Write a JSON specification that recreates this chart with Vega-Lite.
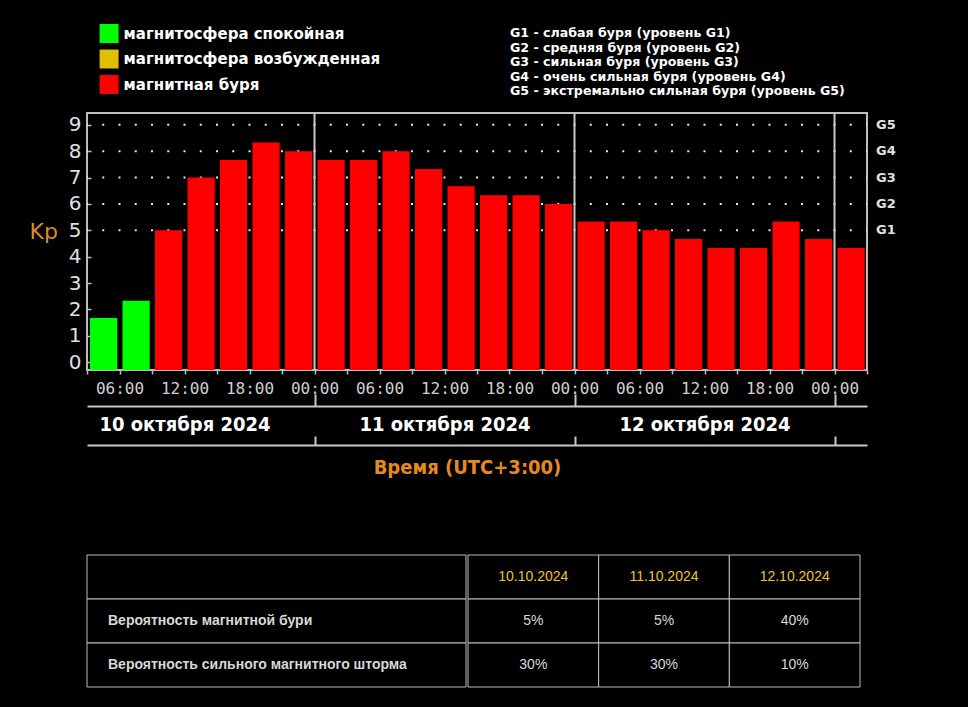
{
  "$schema": "https://vega.github.io/schema/vega-lite/v6.json",
  "background": "#000000",
  "padding": {"left": 28, "top": 23, "right": 71, "bottom": 19},
  "config": {"view": {"stroke": null}, "font": "DejaVu Sans"},
  "datasets": {
    "midnights": [{"t": "2024-10-11T00:00:00"}, {"t": "2024-10-12T00:00:00"}, {"t": "2024-10-13T00:00:00"}]
  },
  "bounds": "flush",
  "spacing": 36,
  "resolve": {"legend": {"color": "independent"}},
  "vconcat": [
    {
      "width": 780,
      "height": 257,
      "view": {"stroke": "#bdbdbd", "strokeWidth": 2},
      "title": {
        "text": ["G1 - слабая буря (уровень G1)", "G2 - средняя буря (уровень G2)", "G3 - сильная буря (уровень G3)", "G4 - очень сильная буря (уровень G4)", "G5 - экстремально сильная буря (уровень G5)"],
        "anchor": "start", "frame": "group", "dx": 423, "offset": -74,
        "font": "DejaVu Sans", "fontSize": 12.6, "fontWeight": "bold", "color": "#ffffff", "lineHeight": 14.5
      },
      "layer": [
        {
          "data": {"values": [{"level": 5}, {"level": 6}, {"level": 7}, {"level": 8}, {"level": 9}]},
          "mark": {"type": "rule", "stroke": "#e8e8e8", "strokeWidth": 2, "strokeDash": [2, 14.25], "strokeDashOffset": 1},
          "encoding": {
            "y": {"field": "level", "type": "quantitative", "scale": {"domain": [-0.3, 9.45], "nice": false, "zero": false},
              "axis": {"orient": "left", "values": [0,1,2,3,4,5,6,7,8,9], "ticks": true, "tickSize": -4, "tickColor": "#bdbdbd", "tickWidth": 1.5, "domain": false, "grid": false,
                "labelFont": "DejaVu Sans", "labelFontSize": 20, "labelColor": "#e0e0e0", "labelPadding": 10,
                "labelOverlap": false, "labelFlush": false, "labelBound": false,
                "title": "Kp", "titleAngle": 0, "titleColor": "#d98b2b", "titleFont": "DejaVu Sans", "titleFontSize": 22, "titleFontWeight": "normal",
                "titleX": -58, "titleY": 118, "titleAlign": "left", "titleBaseline": "middle"}}
          }
        },
        {
          "data": {"name": "midnights"},
          "mark": {"type": "rule", "stroke": "#c8c8c8", "strokeWidth": 2},
          "encoding": {
            "x": {"field": "t", "type": "temporal",
              "scale": {"domain": [{"year": 2024, "month": 10, "date": 10, "hours": 3}, {"year": 2024, "month": 10, "date": 13, "hours": 3}]}}
          }
        },
        {
          "data": {
            "values": [
              {"start": "2024-10-10T03:00:00", "end": "2024-10-10T06:00:00", "kp": 1.67, "status": "магнитосфера спокойная"},
              {"start": "2024-10-10T06:00:00", "end": "2024-10-10T09:00:00", "kp": 2.33, "status": "магнитосфера спокойная"},
              {"start": "2024-10-10T09:00:00", "end": "2024-10-10T12:00:00", "kp": 5, "status": "магнитная буря"},
              {"start": "2024-10-10T12:00:00", "end": "2024-10-10T15:00:00", "kp": 7, "status": "магнитная буря"},
              {"start": "2024-10-10T15:00:00", "end": "2024-10-10T18:00:00", "kp": 7.67, "status": "магнитная буря"},
              {"start": "2024-10-10T18:00:00", "end": "2024-10-10T21:00:00", "kp": 8.33, "status": "магнитная буря"},
              {"start": "2024-10-10T21:00:00", "end": "2024-10-11T00:00:00", "kp": 8, "status": "магнитная буря"},
              {"start": "2024-10-11T00:00:00", "end": "2024-10-11T03:00:00", "kp": 7.67, "status": "магнитная буря"},
              {"start": "2024-10-11T03:00:00", "end": "2024-10-11T06:00:00", "kp": 7.67, "status": "магнитная буря"},
              {"start": "2024-10-11T06:00:00", "end": "2024-10-11T09:00:00", "kp": 8, "status": "магнитная буря"},
              {"start": "2024-10-11T09:00:00", "end": "2024-10-11T12:00:00", "kp": 7.33, "status": "магнитная буря"},
              {"start": "2024-10-11T12:00:00", "end": "2024-10-11T15:00:00", "kp": 6.67, "status": "магнитная буря"},
              {"start": "2024-10-11T15:00:00", "end": "2024-10-11T18:00:00", "kp": 6.33, "status": "магнитная буря"},
              {"start": "2024-10-11T18:00:00", "end": "2024-10-11T21:00:00", "kp": 6.33, "status": "магнитная буря"},
              {"start": "2024-10-11T21:00:00", "end": "2024-10-12T00:00:00", "kp": 6, "status": "магнитная буря"},
              {"start": "2024-10-12T00:00:00", "end": "2024-10-12T03:00:00", "kp": 5.33, "status": "магнитная буря"},
              {"start": "2024-10-12T03:00:00", "end": "2024-10-12T06:00:00", "kp": 5.33, "status": "магнитная буря"},
              {"start": "2024-10-12T06:00:00", "end": "2024-10-12T09:00:00", "kp": 5, "status": "магнитная буря"},
              {"start": "2024-10-12T09:00:00", "end": "2024-10-12T12:00:00", "kp": 4.67, "status": "магнитная буря"},
              {"start": "2024-10-12T12:00:00", "end": "2024-10-12T15:00:00", "kp": 4.33, "status": "магнитная буря"},
              {"start": "2024-10-12T15:00:00", "end": "2024-10-12T18:00:00", "kp": 4.33, "status": "магнитная буря"},
              {"start": "2024-10-12T18:00:00", "end": "2024-10-12T21:00:00", "kp": 5.33, "status": "магнитная буря"},
              {"start": "2024-10-12T21:00:00", "end": "2024-10-13T00:00:00", "kp": 4.67, "status": "магнитная буря"},
              {"start": "2024-10-13T00:00:00", "end": "2024-10-13T03:00:00", "kp": 4.33, "status": "магнитная буря"}
            ],
            "format": {"parse": {"start": "date", "end": "date"}}
          },
          "mark": {"type": "bar", "xOffset": 3, "x2Offset": -2.3},
          "encoding": {
            "x": {"field": "start", "type": "temporal",
              "axis": {"orient": "bottom", "tickCount": 24, "tickSize": 4, "tickColor": "#bdbdbd", "tickWidth": 1.5, "domain": false, "grid": false,
                "labelExpr": "hours(datum.value) % 6 == 0 ? timeFormat(datum.value, '%H:%M') : ''",
                "labelFont": "DejaVu Sans Mono", "labelFontSize": 16, "labelColor": "#d0d0d0", "labelPadding": 6,
                "labelOverlap": false, "labelFlush": false, "labelBound": false, "title": null}},
            "x2": {"field": "end"},
            "y": {"field": "kp", "type": "quantitative",
              "axis": {"orient": "left", "values": [0,1,2,3,4,5,6,7,8,9], "ticks": true, "tickSize": -4, "tickColor": "#bdbdbd", "tickWidth": 1.5, "domain": false, "grid": false,
                "labelFont": "DejaVu Sans", "labelFontSize": 20, "labelColor": "#e0e0e0", "labelPadding": 10,
                "labelOverlap": false, "labelFlush": false, "labelBound": false,
                "title": "Kp", "titleAngle": 0, "titleColor": "#d98b2b", "titleFont": "DejaVu Sans", "titleFontSize": 22, "titleFontWeight": "normal",
                "titleX": -58, "titleY": 118, "titleAlign": "left", "titleBaseline": "middle"}},
            "y2": {"datum": -0.3},
            "color": {"field": "status", "type": "nominal",
              "scale": {"domain": ["магнитосфера спокойная", "магнитосфера возбужденная", "магнитная буря"], "range": ["#00ff00", "#e0bf00", "#ff0000"]},
              "legend": {"orient": "none", "legendX": 12.6, "legendY": -89, "title": null, "symbolType": "square", "symbolSize": 361, "symbolStrokeWidth": 0, "symbolOpacity": 1,
                "labelFont": "DejaVu Sans", "labelFontSize": 15, "labelFontWeight": "bold", "labelColor": "#ffffff", "labelOffset": 5, "rowPadding": 6.5, "padding": 0, "labelLimit": 400}}
          }
        },
        {
          "data": {"values": [{"level": 5, "g": "G1"}, {"level": 6, "g": "G2"}, {"level": 7, "g": "G3"}, {"level": 8, "g": "G4"}, {"level": 9, "g": "G5"}]},
          "mark": {"type": "text", "align": "left", "baseline": "middle", "dx": 9, "font": "DejaVu Sans", "fontSize": 13, "fontWeight": "bold", "fill": "#e0e0e0"},
          "encoding": {
            "y": {"field": "level", "type": "quantitative",
              "axis": {"orient": "left", "values": [0,1,2,3,4,5,6,7,8,9], "ticks": true, "tickSize": -4, "tickColor": "#bdbdbd", "tickWidth": 1.5, "domain": false, "grid": false,
                "labelFont": "DejaVu Sans", "labelFontSize": 20, "labelColor": "#e0e0e0", "labelPadding": 10,
                "labelOverlap": false, "labelFlush": false, "labelBound": false,
                "title": "Kp", "titleAngle": 0, "titleColor": "#d98b2b", "titleFont": "DejaVu Sans", "titleFontSize": 22, "titleFontWeight": "normal",
                "titleX": -58, "titleY": 118, "titleAlign": "left", "titleBaseline": "middle"}},
            "x": {"value": "width"},
            "text": {"field": "g"}
          }
        }
      ]
    },
    {
      "width": 780,
      "height": 3,
      "data": {"name": "midnights"},
      "mark": {"type": "rule", "strokeOpacity": 0},
      "encoding": {
        "x": {"field": "t", "type": "temporal",
          "scale": {"domain": [{"year": 2024, "month": 10, "date": 10, "hours": 3}, {"year": 2024, "month": 10, "date": 13, "hours": 3}]},
          "axis": {"orient": "top", "values": [{"year": 2024, "month": 10, "date": 11}, {"year": 2024, "month": 10, "date": 12}, {"year": 2024, "month": 10, "date": 13}],
            "tickSize": 12, "tickColor": "#c8c8c8", "tickWidth": 2, "domainColor": "#c8c8c8", "domainWidth": 2, "labels": false, "grid": false, "title": null}}
      }
    },
    {
      "width": 780,
      "height": 74,
      "data": {"name": "midnights"},
      "mark": {"type": "rule", "strokeOpacity": 0},
      "encoding": {
        "x": {"field": "t", "type": "temporal",
          "scale": {"domain": [{"year": 2024, "month": 10, "date": 10, "hours": 3}, {"year": 2024, "month": 10, "date": 13, "hours": 3}]},
          "axis": {"orient": "top", "values": [{"year": 2024, "month": 10, "date": 11}, {"year": 2024, "month": 10, "date": 12}, {"year": 2024, "month": 10, "date": 13}],
            "tickSize": 9, "tickColor": "#c8c8c8", "tickWidth": 2, "domainColor": "#c8c8c8", "domainWidth": 2, "grid": false, "title": null,
            "labelExpr": "(date(datum.value) - 1) + ' октября 2024'", "labelOffset": -130, "labelPadding": 2,
            "labelFont": "Liberation Sans Narrow, DejaVu Sans Condensed, Roboto Condensed, Liberation Sans", "labelFontSize": 20, "labelFontWeight": "bold", "labelColor": "#ffffff",
            "labelOverlap": false, "labelFlush": false, "labelBound": false}}
      }
    },
    {
      "spacing": 0,
      "title": {"text": "Время (UTC+3:00)", "orient": "top", "anchor": "middle", "offset": 77, "dx": -6,
        "font": "Liberation Sans Narrow, DejaVu Sans Condensed, Roboto Condensed, Liberation Sans", "fontSize": 20, "fontWeight": "bold", "color": "#e58a1f"},
      "hconcat": [
        {
          "width": 379,
          "height": 132,
          "data": {"values": [
            {"row": "h", "label": ""},
            {"row": "r1", "label": "Вероятность магнитной бури"},
            {"row": "r2", "label": "Вероятность сильного магнитного шторма"}
          ]},
          "encoding": {"y": {"field": "row", "type": "nominal", "scale": {"domain": ["h", "r1", "r2"], "paddingInner": 0, "paddingOuter": 0}, "axis": null}},
          "layer": [
            {"mark": {"type": "rect", "fill": "#000000", "stroke": "#bdbdbd", "strokeWidth": 1}},
            {"mark": {"type": "text", "align": "left", "dx": 21, "font": "Liberation Sans", "fontSize": 14, "fontWeight": "bold", "fill": "#d8d8d8"},
             "encoding": {"text": {"field": "label"}, "x": {"datum": 0, "type": "quantitative", "scale": {"domain": [0, 1]}, "axis": null}}}
          ]
        },
        {
          "width": 392,
          "height": 132,
          "data": {"values": [
            {"date": "10.10.2024", "row": "h", "text": "10.10.2024"},
            {"date": "11.10.2024", "row": "h", "text": "11.10.2024"},
            {"date": "12.10.2024", "row": "h", "text": "12.10.2024"},
            {"date": "10.10.2024", "row": "r1", "text": "5%"},
            {"date": "11.10.2024", "row": "r1", "text": "5%"},
            {"date": "12.10.2024", "row": "r1", "text": "40%"},
            {"date": "10.10.2024", "row": "r2", "text": "30%"},
            {"date": "11.10.2024", "row": "r2", "text": "30%"},
            {"date": "12.10.2024", "row": "r2", "text": "10%"}
          ]},
          "encoding": {
            "x": {"field": "date", "type": "nominal", "scale": {"paddingInner": 0, "paddingOuter": 0}, "axis": null},
            "y": {"field": "row", "type": "nominal", "scale": {"domain": ["h", "r1", "r2"], "paddingInner": 0, "paddingOuter": 0}, "axis": null}
          },
          "layer": [
            {"mark": {"type": "rect", "fill": "#000000", "stroke": "#bdbdbd", "strokeWidth": 1}},
            {"transform": [{"filter": "datum.row == 'h'"}],
             "mark": {"type": "text", "font": "Liberation Sans", "fontSize": 14, "fill": "#f0c030"},
             "encoding": {"text": {"field": "text"}}},
            {"transform": [{"filter": "datum.row != 'h'"}],
             "mark": {"type": "text", "font": "Liberation Sans", "fontSize": 14, "fill": "#d8d8d8"},
             "encoding": {"text": {"field": "text"}}}
          ]
        }
      ]
    }
  ]
}
